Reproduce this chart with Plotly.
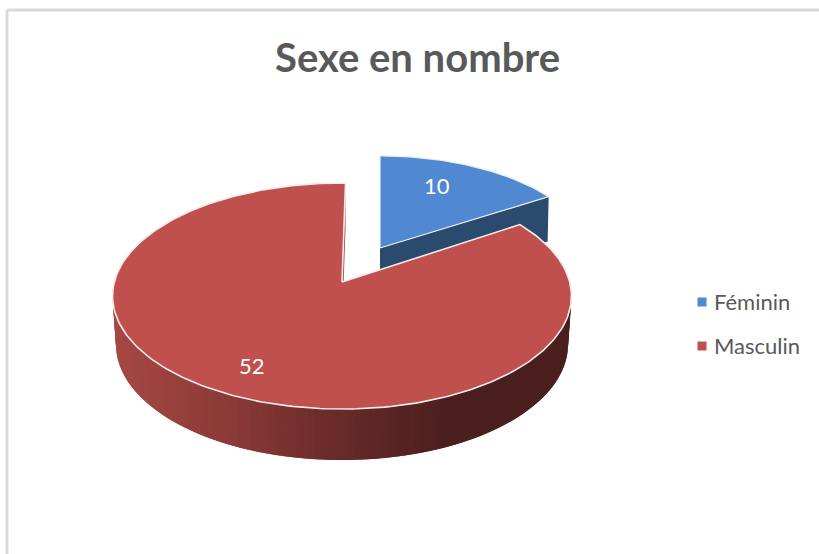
import numpy as np
import plotly.graph_objects as go

# --- data ---
categories = ["Féminin", "Masculin"]
values = [10, 52]
title_text = "Sexe en nombre"

# --- style ---
top_colors = ["#5088D1", "#BF504D"]
blue_side = "#2A4A6E"
font = "Lato, 'Open Sans', sans-serif"
grey = "#595959"
W, H = 819, 554

# --- 3D projection of the pie (clockwise angle from 12 o'clock) ---
K = 0.124
A, B = 227.7, 111.3


def rim(theta, apex, scale=1.0):
    w = 1 + K * np.cos(theta)
    return (apex[0] + scale * A * np.sin(theta) / w,
            apex[1] - scale * B * np.cos(theta) / w)


def depth(theta):
    return 48 - 3 * np.cos(theta)


def lower(theta, apex, scale=1.0):
    x, y = rim(theta, apex, scale)
    return apex[0] + (x - apex[0]) * 0.985, y + depth(theta)


def poly(fig, xs, ys, fill, line="rgba(0,0,0,0)", width=0):
    fig.add_trace(go.Scatter(x=list(xs), y=list(ys), mode="lines", fill="toself",
                             fillcolor=fill, line=dict(color=line, width=width),
                             showlegend=False, hoverinfo="skip"))


def side_color(x):
    stops_x = [112, 230, 342, 450, 571]
    r = np.interp(x, stops_x, [0xA8, 0x8A, 0x66, 0x4A, 0x4A])
    g = np.interp(x, stops_x, [0x48, 0x3A, 0x2A, 0x1F, 0x1F])
    b = np.interp(x, stops_x, [0x45, 0x37, 0x29, 0x1E, 0x1E])
    return f"rgb({int(r)},{int(g)},{int(b)})"


total = sum(values)
sweep = 2 * np.pi * values[0] / total
fig = go.Figure()

# Féminin slice (pulled out)
apex_f, scale_f = (380, 248), 0.93
t_f = np.linspace(0, sweep, 60)
xe, ye = rim(np.array(sweep), apex_f, scale_f)
poly(fig, [apex_f[0], xe, xe - 1, apex_f[0]],
     [apex_f[1], ye, ye + 45, apex_f[1] + 45], blue_side)
xf, yf = rim(t_f, apex_f, scale_f)
poly(fig, [apex_f[0], *xf, apex_f[0]], [apex_f[1], *yf, apex_f[1]],
     top_colors[0], "#E8EEF6", 1.2)

# Masculin slice
apex_m, rot = (342, 282), np.radians(1)
t0, t1 = sweep - np.radians(1.5), 2 * np.pi + rot
# shaded outer wall: narrow strips, each overlapped by the next one
edges = np.linspace(np.radians(60), np.radians(300), 161)
for i in range(len(edges) - 1):
    ta = np.linspace(edges[i], edges[min(i + 2, len(edges) - 1)], 4)
    xu, yu = rim(ta, apex_m)
    xl, yl = lower(ta, apex_m)
    c = side_color((xu[0] + xu[-1]) / 2)
    poly(fig, [*xu, *xl[::-1]], [*yu, *yl[::-1]], c)
# cut face next to the gap
xe, ye = rim(np.array(t1), apex_m)
poly(fig, [apex_m[0], xe, xe, apex_m[0]], [apex_m[1], ye, ye + 46, apex_m[1] + 46], "#A84643")
# top
t_m = np.linspace(t0, t1, 300)
xm, ym = rim(t_m, apex_m)
poly(fig, [apex_m[0], *xm, apex_m[0]], [apex_m[1], *ym, apex_m[1]],
     top_colors[1], "#F6ECEB", 1.6)

# legend
for name, col, ly in zip(categories, top_colors, [302, 346]):
    fig.add_trace(go.Scatter(x=[702], y=[ly], mode="markers", name=name, showlegend=False,
                             hoverinfo="skip",
                             marker=dict(symbol="square", size=9, color=col)))
    fig.add_annotation(x=712, y=ly - 1, text=name, showarrow=False, xanchor="left",
                       font=dict(family=font, size=22, color=grey))

# data labels
for v, (lx, ly) in zip(values, [(437, 185), (252, 365)]):
    fig.add_annotation(x=lx, y=ly, text=str(v), showarrow=False,
                       font=dict(family=font, size=22, color="white"))

# chart frame (top and left edges are what fits in the picture)
fig.add_shape(type="line", x0=7, x1=W, y0=10, y1=10, line=dict(color="#D9D9D9", width=3))
fig.add_shape(type="line", x0=7, x1=7, y0=10, y1=H, line=dict(color="#D9D9D9", width=3))

fig.add_annotation(x=417, y=57, text=f"<b>{title_text}</b>", showarrow=False,
                   font=dict(family=font, size=40, color=grey))

fig.update_layout(
    width=W, height=H, autosize=False,
    margin=dict(l=0, r=0, t=0, b=0),
    paper_bgcolor="white", plot_bgcolor="white",
    xaxis=dict(range=[0, W], visible=False, fixedrange=True),
    yaxis=dict(range=[H, 0], visible=False, fixedrange=True),
    showlegend=False,
)
fig.write_html("out.html", config=dict(displayModeBar=False),
               post_script="document.body.style.margin='0';document.body.style.overflow='hidden';")
